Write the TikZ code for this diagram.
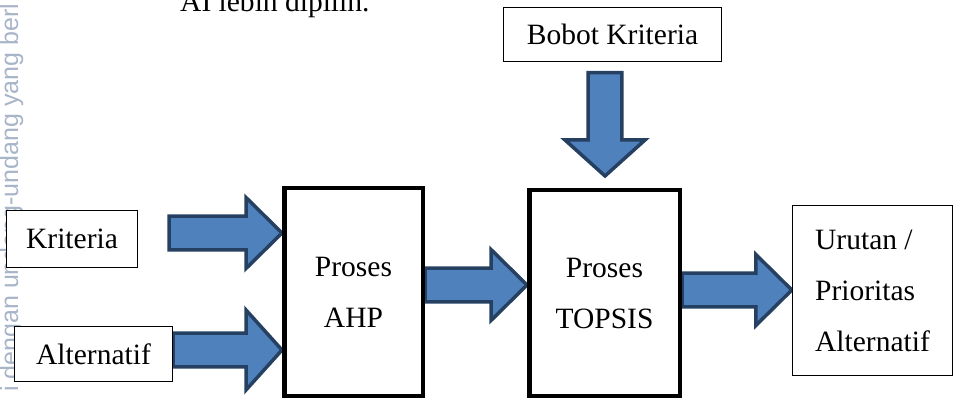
\documentclass[tikz,border=0pt]{standalone}
\usepackage{fontspec}
\setmainfont{Liberation Serif}
\newfontfamily\wmfont{Liberation Sans}
\usetikzlibrary{calc,backgrounds}
\definecolor{arrowfill}{RGB}{79,129,189}
\definecolor{arrowline}{RGB}{37,64,97}
\definecolor{wmgrey}{RGB}{168,180,200}
\tikzset{
  base/.style={font=\fontsize{29.5}{51}\selectfont, align=center, inner sep=0pt, text=black},
  box/.style={base, rectangle, draw=black, fill=white, line width=1.3pt},
  procbox/.style={box, line width=4.5pt},
  blockarr/.style={fill=arrowfill, draw=arrowline, line width=3.5pt, line join=miter},
  wmark/.style={font=\wmfont\fontsize{25}{25}\selectfont, text=wmgrey, rotate=90, anchor=base west, inner sep=0pt},
}
% fat arrow: start #1, tip #2, half width of the head #3
\newcommand{\blockarrow}[3]{%
  \coordinate (ba-a) at #1;
  \coordinate (ba-t) at #2;
  \coordinate (ba-n) at ($(ba-t)!36pt!(ba-a)$);
  \draw[blockarr] ($(ba-a)!16.8pt!90:(ba-t)$) -- ($(ba-n)!16.8pt!90:(ba-t)$) -- ($(ba-n)!#3!90:(ba-t)$)
    -- (ba-t) -- ($(ba-n)!#3!-90:(ba-t)$) -- ($(ba-n)!16.8pt!-90:(ba-t)$) -- ($(ba-a)!16.8pt!-90:(ba-t)$) -- cycle;
}

\begin{document}
\begin{tikzpicture}[x=1pt,y=1pt]
  \useasboundingbox (0,0) rectangle (957,399);
  % page text around the figure
  \node[wmark] (wm) at (18,7) {i dengan undang-undang yang berl};
  \node[base, anchor=base west] (line) at (180,387) {AI lebih dipilih.};
  % inputs
  \node[box, minimum width=131, minimum height=57] (kri) at (72,160) {Kriteria};
  \node[box, minimum width=158, minimum height=55] (alt) at (93.5,45) {Alternatif};
  \node[box, minimum width=218, minimum height=54] (bobot) at (612.5,364.5) {Bobot Kriteria};
  % processes
  \node[procbox, minimum width=138.5, minimum height=207.5] (ahp) at (353.5,107) {Proses\\AHP};
  \node[procbox, minimum width=150.5, minimum height=205.5] (topsis) at (604.5,106) {Proses\\TOPSIS};
  % result
  \node[box, align=left, minimum width=160, minimum height=170] (hasil) at (872.5,108.5) {Urutan /\\Prioritas\\Alternatif};
  % arrows
  \begin{scope}[on background layer]
    \blockarrow{($(kri.east)+(31,6)$)}{($(ahp.west)+(0,59)$)}{35.5pt}
    \blockarrow{($(alt.east)+(0,4)$)}{($(ahp.west)+(0,-58)$)}{40pt}
    \blockarrow{($(ahp.east)+(0,7)$)}{($(topsis.west)+(0,8)$)}{35.5pt}
    \blockarrow{($(bobot.south)+(-7.5,-10.5)$)}{($(topsis.north)+(0.5,12)$)}{40pt}
    \blockarrow{($(topsis.east)+(0,3)$)}{($(hasil.west)+(0,0.5)$)}{35.5pt}
  \end{scope}
\end{tikzpicture}
\end{document}
